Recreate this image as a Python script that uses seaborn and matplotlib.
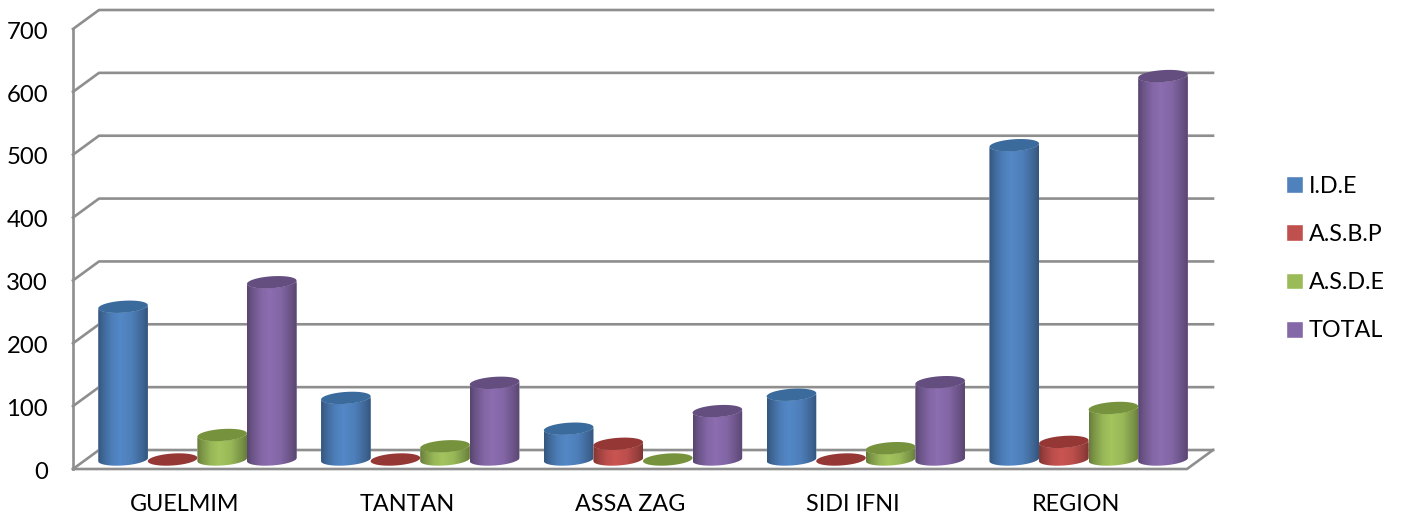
import numpy as np
import pandas as pd
import matplotlib
matplotlib.use('Agg')
import matplotlib.pyplot as plt
from matplotlib.colors import LinearSegmentedColormap, to_rgb
from matplotlib.patches import PathPatch, Polygon
from matplotlib.path import Path
import seaborn as sns

# values
categories = ['GUELMIM', 'TANTAN', 'ASSA ZAG', 'SIDI IFNI', 'REGION']
ide = [243, 98, 49, 103, 500]
asbp = [0, 0, 25, 0, 28]
asde = [39, 21, 0, 18, 82]
total = [282, 122, 77, 123, 610]
y_ticks = [0, 100, 200, 300, 400, 500, 600, 700]

series_names = ['I.D.E', 'A.S.B.P', 'A.S.D.E', 'TOTAL']
series_values = [ide, asbp, asde, total]
side_colors = ['#4F81BD', '#C0504D', '#9BBB59', '#8568A8']
top_colors = ['#3B6A9C', '#953735', '#76923C', '#644E80']

df = pd.DataFrame({
    'site': np.tile(categories, len(series_names)),
    'serie': np.repeat(series_names, len(categories)),
    'value': np.concatenate(series_values),
})

sns.set_theme(style='white')
plt.rcParams['font.family'] = ['Lato', 'DejaVu Sans']

# fake depth of the 3d box, in data units (bars stand in the middle of it)
depth_x = 13 / 222.8
depth_y = 15.1
ell_ry = 9.5
ell_tilt = 2.6
label_drop = 2      # y labels sit slightly under the front edge of the box
margin = 4          # room under the floor so the "0" label is kept

W, H = 1403, 520
px_per_unit = 459 / (y_ticks[-1] + 2 * depth_y)
ax_bottom = 469 + margin * px_per_unit
fig = plt.figure(figsize=(W / 100, H / 100), dpi=100)
ax = fig.add_axes([73 / W, 1 - ax_bottom / H, (1213 - 73) / W, (ax_bottom - 10) / H])

sns.barplot(data=df, x='site', y='value', hue='serie', order=categories,
            hue_order=series_names, palette=dict(zip(series_names, side_colors)),
            width=0.89, gap=0, saturation=1, ax=ax)
handles, labels = ax.get_legend_handles_labels()

x_left, x_right = -0.5, len(categories) - 0.5

# walls and floor
wall = dict(color='#8E8E8E', lw=1.9, zorder=0.5, clip_on=False, solid_capstyle='projecting')
for t in y_ticks:
    ax.plot([x_left - depth_x, x_left + depth_x, x_right + depth_x],
            [t - depth_y, t + depth_y, t + depth_y], **wall)
ax.plot([x_left - depth_x, x_left - depth_x], [-depth_y, y_ticks[-1] - depth_y], **wall)
ax.plot([x_left - depth_x, x_right - depth_x, x_right + depth_x],
        [-depth_y, -depth_y, depth_y], **wall)


def shade_map(col):
    r = np.array(to_rgb(col))
    stops = [(0, 0.66), (0.1, 0.8), (0.28, 0.98), (0.45, 1.05), (0.68, 0.98), (0.9, 0.78), (1, 0.66)]
    return LinearSegmentedColormap.from_list('s', [(p, tuple(np.clip(r * m, 0, 1))) for p, m in stops])


# turn each bar into a cylinder
t = np.linspace(0, 2 * np.pi, 121)
grad = np.linspace(0, 1, 256)[None, :]
for i in range(len(categories)):
    for j in range(len(series_names)):
        bar = ax.containers[j][i]
        x0, w, v = bar.get_x(), bar.get_width(), bar.get_height()
        z = 3 + i + j * 0.1
        xc = x0 + w / 2
        ex = xc + w / 2 * np.cos(t)
        ey = ell_ry * np.sin(t) + ell_tilt * np.cos(t)
        low = t[60:]  # lower half, left to right
        bx = xc + w / 2 * np.cos(low)
        by = ell_ry * np.sin(low) + ell_tilt * np.cos(low)
        body_pts = np.vstack([np.c_[bx, by], np.c_[bx[::-1], by[::-1] + v]])
        body = PathPatch(Path(np.vstack([body_pts, body_pts[:1]])), fc='none', ec='none', zorder=z)
        ax.add_patch(body)
        bar.set_zorder(z)
        bar.set_clip_path(body)
        if v > 0:
            im = ax.imshow(grad, cmap=shade_map(side_colors[j]), aspect='auto', zorder=z + 0.01,
                           extent=(x0, x0 + w, -ell_ry - ell_tilt, v + ell_ry + ell_tilt))
            im.set_clip_path(body)
        ax.add_patch(Polygon(np.c_[ex, ey + v], closed=True, fc=top_colors[j], ec='none', zorder=z + 0.02))

ax.set_xticks(np.arange(len(categories)) - depth_x)
ax.set_xticklabels(categories, fontsize=16.8, color='black')
ax.set_yticks(np.array(y_ticks) - depth_y - label_drop)
ax.set_yticklabels(y_ticks, fontsize=17.2, color='black')
ax.set_xlim(x_left - depth_x, x_right + depth_x)
ax.set_ylim(-depth_y - margin, y_ticks[-1] + depth_y)
ax.tick_params(axis='x', length=0, pad=16)
ax.tick_params(axis='y', length=0, pad=18)
ax.set_xlabel('')
ax.set_ylabel('')
sns.despine(ax=ax, left=True, bottom=True)

ax.get_legend().remove()
ax.legend(handles, labels, loc='center left', bbox_to_anchor=(1286 / W, 1 - 258.5 / H),
          bbox_transform=fig.transFigure, frameon=False, fontsize=16.8, borderpad=0,
          borderaxespad=0, handlelength=0.72, handleheight=0.72, handletextpad=0.26,
          labelspacing=1.17, labelcolor='black')

fig.savefig('out.png', dpi=100)
